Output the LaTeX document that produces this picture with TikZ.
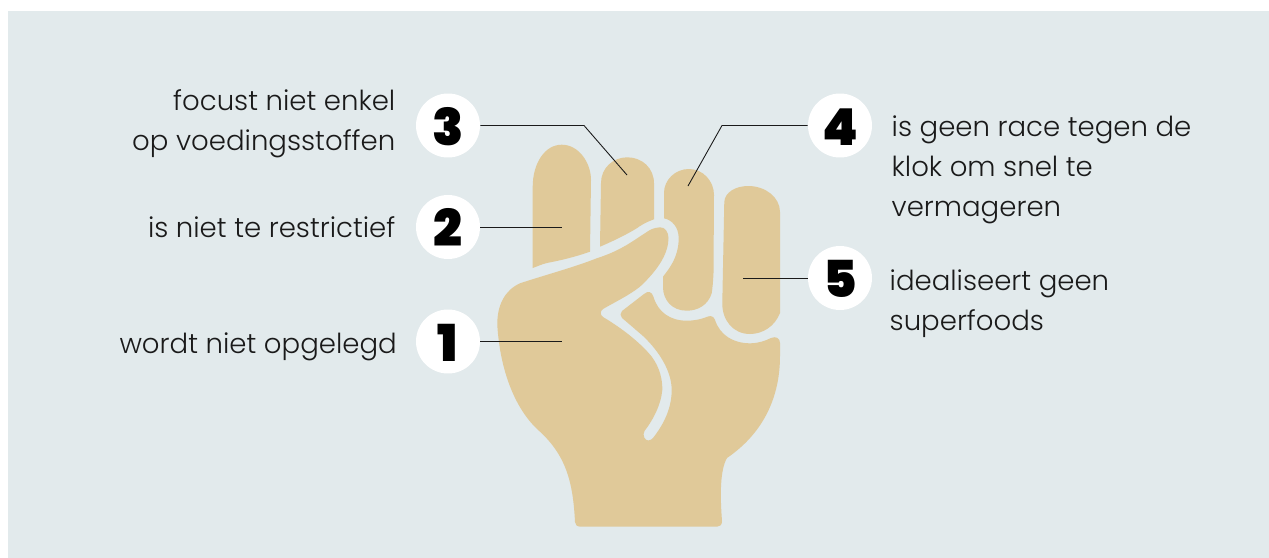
\documentclass[tikz,border=0pt]{standalone}
\usepackage{fontspec}
\usepackage{xcolor}
\setmainfont{Poppins Light}
\newfontfamily\numfont{Poppins Black}
\usetikzlibrary{positioning}
\definecolor{cPanel}{RGB}{226,234,236}
\definecolor{cHand}{RGB}{224,201,153}
\definecolor{cInk}{RGB}{26,26,26}
\tikzset{
	handpart/.style={fill=cHand, draw=none},
	numdot/.style={circle, fill=white, minimum size=1.28cm, inner sep=0pt, text height=22.5pt, text depth=0pt, font=\numfont\fontsize{29}{29}\selectfont, text=black},
	saytxt/.style={inner sep=0pt, text=cInk, font=\fontsize{15.7}{22.8}\selectfont},
	saytxtL/.style={saytxt, align=right},
	saytxtR/.style={saytxt, align=left},
	leader/.style={draw=cInk, line width=0.5pt},
}
\begin{document}
\begin{tikzpicture}[x=0.02cm, y=-0.02cm]
	\useasboundingbox (0,0) rectangle (1269,558);
	\fill[cPanel] (8,11) rectangle (1269,558);
	% fingers
	\fill[handpart] (532.7,268) -- (532.7,187) .. controls (532.7,163) and (545,144.7) .. (561.7,144.7) .. controls (579,144.7) and (591,163) .. (591,180) -- (590,251.7) .. controls (575,257) and (560,260.5) .. (548.3,262.7) .. controls (542,264) and (537,266.5) .. (532.7,268) -- cycle;
	\fill[handpart] (600,246.7) -- (601,183) .. controls (601,168) and (613,157.3) .. (627.3,157.3) .. controls (642,157.3) and (654,168) .. (654,183.3) -- (654,219.3) .. controls (645,222.5) and (640,226) .. (636.7,228.3) .. controls (625,235.5) and (612,241.5) .. (600,246.7) -- cycle;
	\fill[handpart] (664,193) .. controls (664,180) and (675,169) .. (689,169) .. controls (703,169) and (714,181) .. (714,195) -- (713.5,273) .. controls (713,283) and (712.5,288) .. (711.7,293.3) .. controls (708,305) and (698,310.7) .. (686.7,310.7) .. controls (672,310.7) and (663,300) .. (663,287) -- (663,276.7) .. controls (668,270) and (678.7,258) .. (678.7,238.3) .. controls (678.7,227) and (672,220) .. (664,218.3) -- cycle;
	\fill[handpart] (724.3,201.7) .. controls (725,192) and (736,186) .. (748.3,186) .. controls (765,186) and (780,197) .. (780,212) -- (780,313) .. controls (775,326) and (763,334) .. (750,334) .. controls (733,334) and (722,320) .. (722.3,303) -- cycle;
	% palm and thumb
	\fill[handpart] (660,227.3) .. controls (665,227) and (668.5,232) .. (668.5,238) .. controls (668.5,252) and (660,268) .. (640,286.7) .. controls (628,296) and (615,302) .. (603,309) .. controls (600,311) and (600,315) .. (603,317) .. controls (620,327) and (640,342) .. (652,357) .. controls (660,368) and (662.5,380) .. (662.3,390) .. controls (661,405) and (653,420) .. (644.5,431) .. controls (642,435) and (645,441) .. (648.5,440.5) .. controls (651,440) and (652,439) .. (653,438) .. controls (664,424) and (671.7,408) .. (671.7,390) .. controls (671.7,372) and (660,352) .. (643,336) .. controls (636,330) and (628,323) .. (622,318) .. controls (620,316) and (620,313) .. (622,311) -- (644,294) .. controls (648,290.5) and (652,291.5) .. (653.5,297) .. controls (658,312) and (670,320.7) .. (686.7,320.7) .. controls (695,320.7) and (702,319) .. (708,316.5) .. controls (711,315.5) and (714,316.5) .. (715,320) .. controls (720,335) and (733,343.3) .. (750,343.3) .. controls (758,343.3) and (765,341) .. (771,338) .. controls (776,336) and (780,338) .. (780,343) -- (780,356) .. controls (780,395) and (765,432) .. (727,458) .. controls (720,470) and (720,495) .. (722,521) .. controls (722,525) and (720,526.7) .. (717,526.7) -- (581,526.7) .. controls (577,526.7) and (575.2,525) .. (575,522) .. controls (573,480) and (565,455) .. (540,431.7) .. controls (515,410) and (500,370) .. (497.3,325) .. controls (497,305) and (505,290) .. (520,283.3) .. controls (545,275) and (575,267) .. (596.7,258.3) .. controls (610,254) and (618,250) .. (626.7,245) .. controls (635,240) and (645,233) .. (650,230) .. controls (654,228) and (657,227.5) .. (660,227.3) -- cycle;
	% numbers
	\node[numdot] (num3) at (448,125.5) {3};
	\node[numdot] (num2) at (448,227) {2};
	\node[numdot] (num1) at (448,341.5) {1};
	\node[numdot] (num4) at (840,125.5) {4};
	\node[numdot] (num5) at (840,278) {5};
	% texts
	\node[saytxtL, left=0.40cm of num3, yshift=0.03cm] (say3) {focust niet enkel\\op voedingsstoffen};
	\node[saytxtL, left=0.40cm of num2] (say2) {is niet te restrictief};
	\node[saytxtL, left=0.37cm of num1, yshift=-0.11cm] (say1) {wordt niet opgelegd};
	\node[saytxtR, right=0.38cm of num4, yshift=-0.88cm] (say4) {is geen race tegen de\\klok om snel te\\vermageren};
	\node[saytxtR, right=0.34cm of num5, yshift=-0.52cm] (say5) {idealiseert geen\\superfoods};
	% leaders
	\coordinate (tip3a) at (584,125.5);
	\coordinate (tip3) at (627,175);
	\coordinate (tip2) at (562,227);
	\coordinate (tip1) at (562,341.5);
	\coordinate (tip4a) at (722,125.5);
	\coordinate (tip4) at (688,186);
	\coordinate (tip5) at (743,278);
	\draw[leader] (num3) -- (tip3a) -- (tip3);
	\draw[leader] (num2) -- (tip2);
	\draw[leader] (num1) -- (tip1);
	\draw[leader] (num4) -- (tip4a) -- (tip4);
	\draw[leader] (num5) -- (tip5);
\end{tikzpicture}
\end{document}
